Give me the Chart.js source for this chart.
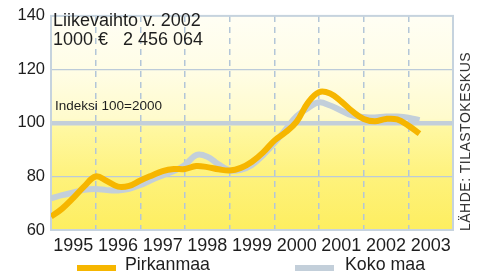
<!DOCTYPE html>
<html>
<head>
<meta charset="utf-8">
<script src="https://cdn.jsdelivr.net/npm/chart.js@4.4.1/dist/chart.umd.min.js"></script>
<style>
  body { margin: 0; background: #fff; font-family: "Liberation Sans", Arial, sans-serif; }
  #wrap { position: relative; width: 480px; height: 275px; }
  .note { position: absolute; color: #1e1e1e; white-space: pre; }
  .swatch { position: absolute; height: 6px; width: 39px; }
</style>
</head>
<body>
<div id="wrap">
  <canvas id="chart" width="480" height="275"></canvas>
  <div class="note" style="left:53px;top:11px;font-size:18px;line-height:19px">Liikevaihto v. 2002
1000 €   2 456 064</div>
  <div class="note" style="left:55px;top:98px;font-size:13.5px">Indeksi 100=2000</div>
  <div class="note" style="left:457px;top:231px;font-size:14px;letter-spacing:0.5px;color:#333;transform-origin:0 0;transform:rotate(-90deg)">LÄHDE: TILASTOKESKUS</div>
  <div class="swatch" style="left:77px;top:265px;background:#f6b600"></div>
  <div class="note" style="left:125px;top:254px;font-size:17.8px">Pirkanmaa</div>
  <div class="swatch" style="left:295px;top:265px;background:#c3cfda"></div>
  <div class="note" style="left:345px;top:254px;font-size:17.8px">Koko maa</div>
</div>
<script>
// quarterly index, 2000 = 100
const quarters = [
  1995, 1995.25, 1995.5, 1995.75, 1996, 1996.25, 1996.5, 1996.75,
  1997, 1997.25, 1997.5, 1997.75, 1998, 1998.25, 1998.5, 1998.75,
  1999, 1999.25, 1999.5, 1999.75, 2000, 2000.25, 2000.5, 2000.75,
  2001, 2001.25, 2001.5, 2001.75, 2002, 2002.25, 2002.5, 2002.75,
  2003, 2003.25
];
const pirkanmaa = [
  65, 68, 72, 76.4, 80, 78.3, 76.2, 76.5,
  78.5, 80.3, 82, 82.8, 82.8, 83.9, 83.5, 82.7,
  82.2, 83.2, 85.5, 89, 93.4, 96.5, 100.5, 107.5,
  111.5, 111, 108, 104.3, 101.5, 100.6, 101.5, 101.3,
  99, 96
];
const kokoMaa = [
  71.8, 73, 74, 75, 75.3, 74.9, 74.8, 75.4,
  76.8, 78.7, 80.4, 82, 84.3, 88, 87.4, 84.5,
  82.3, 82.5, 84.3, 88, 92.5, 97.5, 102.5, 105.5,
  107.7, 106.5, 104.6, 102.8, 102.2, 102, 102.4, 102.4,
  102, 101
];
const years = [1995, 1996, 1997, 1998, 1999, 2000, 2001, 2002, 2003];
const yTicks = [60, 80, 100, 120, 140];

const backdrop = {
  id: "backdrop",
  beforeDraw(chart) {
    const { ctx, chartArea: a } = chart;
    const g = ctx.createLinearGradient(0, a.top, 0, a.bottom);
    g.addColorStop(0, "#fffef4");
    g.addColorStop(0.25, "#fffde6");
    g.addColorStop(0.48, "#fffbcc");
    g.addColorStop(0.52, "#fff8a2");
    g.addColorStop(0.75, "#fef27c");
    g.addColorStop(1, "#fdee60");
    ctx.save();
    ctx.fillStyle = g;
    ctx.fillRect(a.left, a.top, a.width, a.height);
    ctx.restore();
  },
  beforeDatasetsDraw(chart) {
    const { ctx, chartArea: a } = chart;
    ctx.save();
    ctx.strokeStyle = "#c6d3de";
    ctx.lineWidth = 2;
    ctx.strokeRect(a.left, a.top, a.width, a.height);
    ctx.restore();
  }
};

const pts = (vals) => quarters.map((q, i) => ({ x: q, y: vals[i] }));

new Chart(document.getElementById("chart"), {
  type: "line",
  data: {
    datasets: [
      { label: "Pirkanmaa", data: pts(pirkanmaa), borderColor: "#f6b600", borderWidth: 6, tension: 0.4, pointRadius: 0 },
      { label: "Koko maa", data: pts(kokoMaa), borderColor: "#c3cfda", borderWidth: 6, tension: 0.4, pointRadius: 0 }
    ]
  },
  options: {
    responsive: false,
    animation: false,
    devicePixelRatio: 1,
    layout: { padding: { left: 0, right: 27, top: 9, bottom: 0 } },
    plugins: { legend: { display: false }, tooltip: { enabled: false } },
    scales: {
      x: {
        type: "linear",
        min: 1995,
        max: 2004,
        afterBuildTicks: (s) => {
          s.ticks = years.flatMap((y) => [{ value: y }, { value: y + 0.5 }]).concat([{ value: 2004 }]);
        },
        afterFit: (s) => { s.height = 45; },
        grid: {
          drawTicks: false,
          lineWidth: 1.5,
          color: (c) => {
            const v = c.tick && c.tick.value;
            return Number.isInteger(v) && v > 1995 && v < 2004 ? "#b3c6d8" : "rgba(0,0,0,0)";
          }
        },
        border: { display: false, dash: [6, 5] },
        ticks: {
          autoSkip: false,
          maxRotation: 0,
          padding: 5,
          color: "#1e1e1e",
          font: { family: "Liberation Sans", size: 18 },
          callback: (v) => (Number.isInteger(v) ? "" : String(Math.floor(v)))
        }
      },
      y: {
        min: 60,
        max: 140,
        afterBuildTicks: (s) => { s.ticks = yTicks.map((v) => ({ value: v })); },
        afterFit: (s) => { s.width = 51; },
        grid: {
          drawTicks: false,
          lineWidth: (c) => (c.tick && c.tick.value === 100 ? 4.5 : 1.2),
          color: (c) => {
            const v = c.tick && c.tick.value;
            if (v === 60 || v === 140) return "rgba(0,0,0,0)";
            return v === 100 ? "#c3cfda" : "#bccbd9";
          }
        },
        border: { display: false },
        ticks: {
          padding: 6,
          color: "#1e1e1e",
          font: { family: "Liberation Sans", size: 16.5 }
        }
      }
    }
  },
  plugins: [backdrop]
});
</script>
</body>
</html>
